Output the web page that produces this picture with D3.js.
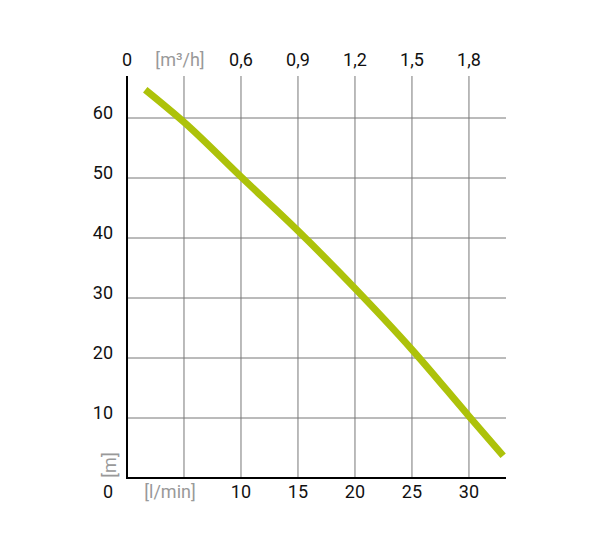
<!DOCTYPE html>
<html><head><meta charset="utf-8">
<script src="https://cdn.jsdelivr.net/npm/d3@7"></script>
<style>body{margin:0;background:#fff}svg text{font-family:"Roboto",sans-serif}</style>
</head><body><svg id="c" width="600" height="550"></svg>
<script>
const flowLmin = [1.6, 5, 10, 15, 20, 25, 30, 33];
const headM = [64.7, 59.3, 50.2, 41.2, 31.6, 21.4, 10.3, 3.7];
const bottomTicks = [10, 15, 20, 25, 30];
const topTicks = [10, 15, 20, 25, 30];
const topLabels = ["0,6", "0,9", "1,2", "1,5", "1,8"];
const yTicks = [10, 20, 30, 40, 50, 60];
const gridX = [5, 10, 15, 20, 25, 30];

const svg = d3.select("#c");
const x = d3.scaleLinear().domain([0, 33.25]).range([127, 506]);
const y = d3.scaleLinear().domain([0, 67]).range([478, 76]);
const FS = 18;

svg.append("g").selectAll("line").data(yTicks).join("line")
  .attr("x1", x(0)).attr("x2", x(33.25)).attr("y1", d => y(d)).attr("y2", d => y(d))
  .attr("stroke", "#777").attr("stroke-width", 1);
svg.append("g").selectAll("line").data(gridX).join("line")
  .attr("y1", y(0)).attr("y2", y(67)).attr("x1", d => x(d)).attr("x2", d => x(d))
  .attr("stroke", "#777").attr("stroke-width", 1);

svg.append("line").attr("x1", x(0)).attr("x2", x(0)).attr("y1", y(67)).attr("y2", y(0) + 1)
  .attr("stroke", "#000").attr("stroke-width", 2);
svg.append("line").attr("x1", x(0) - 1).attr("x2", x(33.25)).attr("y1", y(0)).attr("y2", y(0))
  .attr("stroke", "#000").attr("stroke-width", 2);

const line = d3.line().x((d, i) => x(flowLmin[i])).y(d => y(d)).curve(d3.curveMonotoneX);
svg.append("path").datum(headM).attr("d", line).attr("fill", "none")
  .attr("stroke", "#adc20a").attr("stroke-width", 7);

svg.append("g").selectAll("text").data(yTicks).join("text")
  .attr("x", 113).attr("y", d => y(d) + 1).attr("text-anchor", "end").attr("font-size", FS)
  .attr("fill", "#111").text(d => d);
svg.append("g").selectAll("text").data(bottomTicks).join("text")
  .attr("x", d => x(d)).attr("y", 498).attr("text-anchor", "middle").attr("font-size", FS)
  .attr("fill", "#111").text(d => d);
svg.append("text").attr("x", 108).attr("y", 498).attr("text-anchor", "middle").attr("font-size", FS).attr("fill", "#111").text("0");
svg.append("text").attr("x", 170).attr("y", 498).attr("text-anchor", "middle").attr("font-size", FS).attr("fill", "#999").text("[l/min]");
svg.append("text").attr("transform", `translate(116,465) rotate(-90)`).attr("text-anchor", "middle").attr("font-size", FS).attr("fill", "#999").text("[m]");
svg.append("g").selectAll("text").data(topTicks).join("text")
  .attr("x", d => x(d)).attr("y", 66).attr("text-anchor", "middle").attr("font-size", FS)
  .attr("fill", "#111").text((d, i) => topLabels[i]);
svg.append("text").attr("x", 127).attr("y", 66).attr("text-anchor", "middle").attr("font-size", FS).attr("fill", "#111").text("0");
svg.append("text").attr("x", 180).attr("y", 66).attr("text-anchor", "middle").attr("font-size", FS).attr("fill", "#999").text("[m³/h]");
</script></body></html>
